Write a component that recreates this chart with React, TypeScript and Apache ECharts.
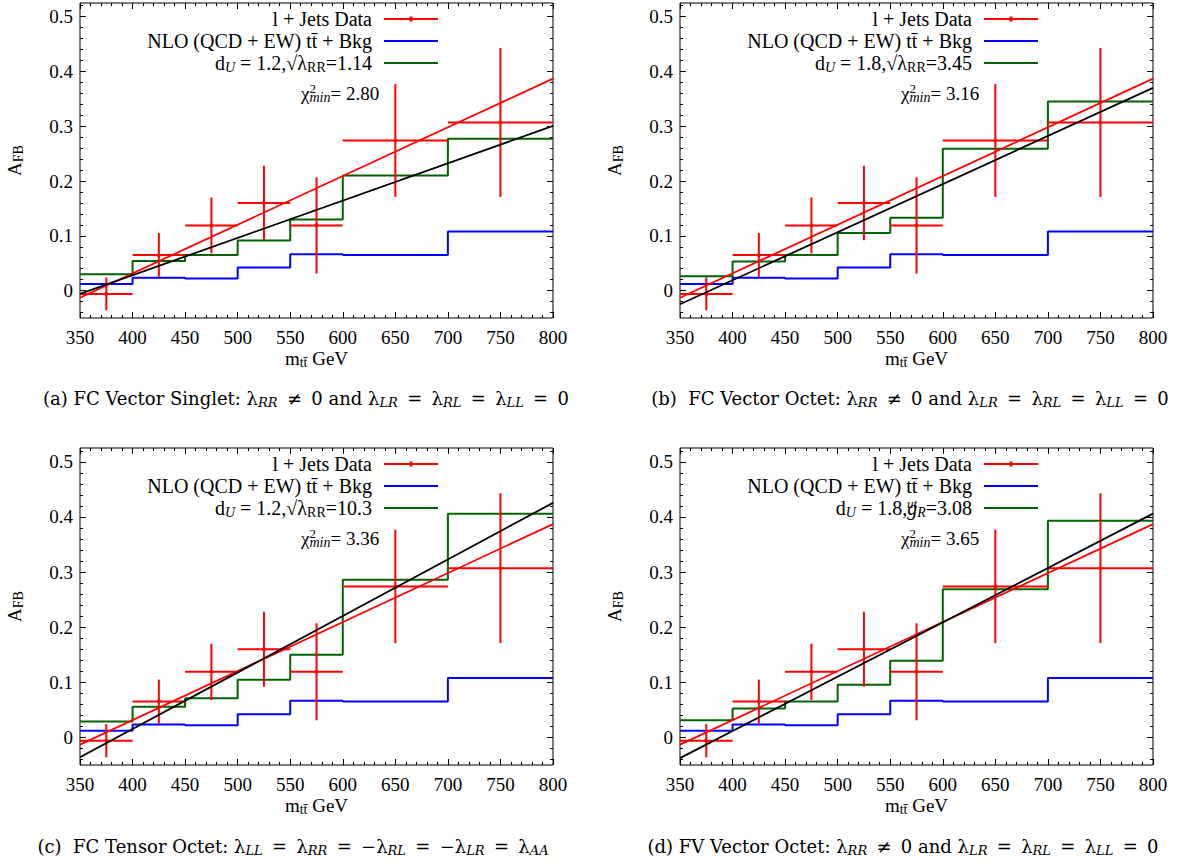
import React, { useEffect, useRef } from "react";
import * as echarts from "echarts";

// ---------------- data ----------------
const binEdges = [350, 400, 450, 500, 550, 600, 700, 800];
const dataCenters = [375, 425, 475, 525, 575, 650, 750];
const dataValues = [-0.006, 0.065, 0.119, 0.16, 0.119, 0.274, 0.307];
const dataErrors = [0.03, 0.04, 0.051, 0.068, 0.088, 0.103, 0.136];
const nloValues = [0.012, 0.0235, 0.022, 0.042, 0.0665, 0.065, 0.108];

const greenA = [0.03, 0.054, 0.065, 0.0915, 0.13, 0.21, 0.277];
const greenB = [0.026, 0.053, 0.065, 0.105, 0.133, 0.259, 0.345];
const greenC = [0.029, 0.0557, 0.071, 0.1047, 0.15, 0.286, 0.4056];
const greenD = [0.031, 0.0527, 0.065, 0.0956, 0.139, 0.269, 0.393];

const fitX = [350, 800];
const redFit = [-0.013, 0.387];
const blackFitA = [-0.006, 0.3006];
const blackFitB = [-0.025, 0.37];
const blackFitC = [-0.036, 0.4255];
const blackFitD = [-0.0375, 0.406];

const chiValues = ["2.80", "3.16", "3.36", "3.65"];

const xMin = 350;
const xMax = 800;
const xStep = 50;
const yMin = -0.05;
const yMax = 0.525;
const yTickValues = [0, 0.1, 0.2, 0.3, 0.4, 0.5];
const yMinorValues = [
  -0.04, -0.02, 0.02, 0.04, 0.06, 0.08, 0.12, 0.14, 0.16, 0.18, 0.22, 0.24,
  0.26, 0.28, 0.32, 0.34, 0.36, 0.38, 0.42, 0.44, 0.46, 0.48, 0.52,
];

const DATA_NAME = "l + Jets Data";
const NLO_NAME = "NLO (QCD + EW) tt\u0304 + Bkg";
const greenNames = [
  "dU = 1.2, √λRR = 1.14",
  "dU = 1.8, √λRR = 3.45",
  "dU = 1.2, √λRR = 10.3",
  "dU = 1.8, gR^ut = 3.08",
];
const greenLabels = [
  "d{subI|U} = 1.2,√λ{sub|RR}=1.14",
  "d{subI|U} = 1.8,√λ{sub|RR}=3.45",
  "d{subI|U} = 1.2,√λ{sub|RR}=10.3",
  "d{subI|U} = 1.8,{mI|g}{supI0|ut}{subI|R}=3.08",
];
const T = "\u2009";
const captions = [
  `(a) FC Vector Singlet: λ{capSub|RR} ${T}≠${T} 0 and λ{capSub|LR} ${T}=${T} λ{capSub|RL} ${T}=${T} λ{capSub|LL} ${T}=${T} 0`,
  `(b)  FC Vector Octet: λ{capSub|RR} ${T}≠${T} 0 and λ{capSub|LR} ${T}=${T} λ{capSub|RL} ${T}=${T} λ{capSub|LL} ${T}=${T} 0`,
  `(c)  FC Tensor Octet: λ{capSub|LL} ${T}=${T} λ{capSub|RR} ${T}=${T} −λ{capSub|RL} ${T}=${T} −λ{capSub|LR} ${T}=${T} λ{capSub|AA}`,
  `(d) FV Vector Octet: λ{capSub|RR} ${T}≠${T} 0 and λ{capSub|LR} ${T}=${T} λ{capSub|RL} ${T}=${T} λ{capSub|LL} ${T}=${T} 0`,
];
const greenSeries = [greenA, greenB, greenC, greenD];
const blackFits = [blackFitA, blackFitB, blackFitC, blackFitD];

// ---------------- layout / style ----------------
const W = 1181;
const H = 867;
const FONT = "Liberation Serif";
const CAP_FONT = "DejaVu Serif";
const RED = "#ff0000";
const BLUE = "#0000ff";
const GREEN = "#006400";
const BLACK = "#000000";

const layout = [
  { left: 80, top: 3, height: 315, capX: 306, capY: 398 },
  { left: 680, top: 3, height: 315, capX: 910, capY: 398 },
  { left: 80, top: 448, height: 317, capX: 293, capY: 846 },
  { left: 680, top: 448, height: 317, capX: 903, capY: 846 },
];
const PW = 473;

const rich: any = {
  mI: { fontFamily: FONT, fontSize: 20, fontStyle: "italic", color: BLACK },
  sub: { fontFamily: FONT, fontSize: 14, lineHeight: 12, verticalAlign: "bottom", color: BLACK },
  subI: { fontFamily: FONT, fontSize: 14, fontStyle: "italic", lineHeight: 12, verticalAlign: "bottom", color: BLACK },
  sup0: { fontFamily: FONT, fontSize: 13, lineHeight: 8, verticalAlign: "top", color: BLACK, width: 0 },
  supI0: { fontFamily: FONT, fontSize: 13, fontStyle: "italic", lineHeight: 7, verticalAlign: "top", color: BLACK, width: 0 },
  capSub: { fontFamily: CAP_FONT, fontSize: 13, fontStyle: "italic", lineHeight: 12, verticalAlign: "bottom", color: BLACK },
};

const DATA_ICON = "path://M0,2H54V4H0Z M25.5,0.5H28.5V5.5H25.5Z";

function stepData(vals: number[]) {
  return binEdges.map((e, k) => [e, vals[Math.min(k, vals.length - 1)]]);
}

function buildOption() {
  const grid: any[] = [];
  const xAxis: any[] = [];
  const yAxis: any[] = [];
  const series: any[] = [];
  const legend: any[] = [];
  const graphic: any[] = [];
  const legendLabel: Record<string, string> = {
    [DATA_NAME]: DATA_NAME,
    [NLO_NAME]: NLO_NAME,
  };
  greenNames.forEach((n, i) => (legendLabel[n] = greenLabels[i]));
  const noDot = { color: "rgba(0,0,0,0)", borderWidth: 0, opacity: 0 };

  layout.forEach((p, i) => {
    grid.push({
      left: p.left,
      top: p.top,
      width: PW,
      height: p.height,
      show: true,
      borderColor: BLACK,
      borderWidth: 1,
      backgroundColor: "transparent",
      containLabel: false,
    });
    const xCommon = {
      type: "value",
      gridIndex: i,
      min: xMin,
      max: xMax,
      interval: xStep,
      axisLine: { show: false, onZero: false },
      splitLine: { show: false },
      axisTick: { show: true, inside: true, length: 6, lineStyle: { color: BLACK, width: 1 } },
      minorTick: { show: true, splitNumber: 5, length: 3, lineStyle: { color: BLACK, width: 1 } },
    };
    xAxis.push({
      ...xCommon,
      position: "bottom",
      axisLabel: { show: true, fontFamily: FONT, fontSize: 19, color: BLACK, margin: 10 },
      name: "m{sub|tt\u0304} GeV",
      nameLocation: "middle",
      nameGap: 24,
      nameTextStyle: { fontFamily: FONT, fontSize: 19, lineHeight: 22, color: BLACK, rich },
    });
    xAxis.push({ ...xCommon, position: "top", axisLabel: { show: false } });

    const yCommon = {
      type: "value",
      gridIndex: i,
      min: yMin,
      max: yMax,
      axisLine: { show: false, onZero: false },
      splitLine: { show: false },
    };
    yAxis.push({
      ...yCommon,
      position: "left",
      axisTick: { show: true, inside: true, length: 6, customValues: yTickValues, lineStyle: { color: BLACK, width: 1 } },
      axisLabel: {
        show: true,
        customValues: yTickValues,
        fontFamily: FONT,
        fontSize: 19,
        color: BLACK,
        margin: 7,
        formatter: (v: number) => String(v),
      },
      name: "A{sub|FB}",
      nameLocation: "middle",
      nameRotate: 90,
      nameGap: 55,
      nameTextStyle: { fontFamily: FONT, fontSize: 19, lineHeight: 22, color: BLACK, rich },
    });
    yAxis.push({
      ...yCommon,
      position: "left",
      axisTick: { show: true, inside: true, length: 3, customValues: yMinorValues, lineStyle: { color: BLACK, width: 1 } },
      axisLabel: { show: false },
    });
    yAxis.push({
      ...yCommon,
      position: "right",
      axisTick: { show: true, inside: true, length: 6, customValues: yTickValues, lineStyle: { color: BLACK, width: 1 } },
      axisLabel: { show: false },
    });
    yAxis.push({
      ...yCommon,
      position: "right",
      axisTick: { show: true, inside: true, length: 3, customValues: yMinorValues, lineStyle: { color: BLACK, width: 1 } },
      axisLabel: { show: false },
    });

    const xi = 2 * i;
    const yi = 4 * i;
    series.push({
      type: "line",
      name: NLO_NAME,
      xAxisIndex: xi,
      yAxisIndex: yi,
      step: "end",
      symbol: "none",
      data: stepData(nloValues),
      lineStyle: { color: BLUE, width: 2 },
      itemStyle: { color: BLUE },
      z: 2,
    });
    series.push({
      type: "line",
      name: greenNames[i],
      xAxisIndex: xi,
      yAxisIndex: yi,
      step: "end",
      symbol: "none",
      data: stepData(greenSeries[i]),
      lineStyle: { color: GREEN, width: 2 },
      itemStyle: { color: GREEN },
      z: 3,
    });
    series.push({
      type: "custom",
      name: DATA_NAME,
      xAxisIndex: xi,
      yAxisIndex: yi,
      itemStyle: { color: RED },
      encode: { x: [0, 2, 3], y: 1 },
      data: dataCenters.map((c, k) => [c, dataValues[k], binEdges[k], binEdges[k + 1], dataErrors[k]]),
      renderItem: (_params: any, api: any) => {
        const cx = api.value(0);
        const cy = api.value(1);
        const e = api.value(4);
        const c = api.coord([cx, cy]);
        const l = api.coord([api.value(2), cy]);
        const r = api.coord([api.value(3), cy]);
        const t = api.coord([cx, cy + e]);
        const b = api.coord([cx, cy - e]);
        const st = { stroke: RED, lineWidth: 2 };
        return {
          type: "group",
          children: [
            { type: "line", shape: { x1: l[0], y1: l[1], x2: r[0], y2: r[1] }, style: st },
            { type: "line", shape: { x1: t[0], y1: t[1], x2: b[0], y2: b[1] }, style: st },
            { type: "circle", shape: { cx: c[0], cy: c[1], r: 2 }, style: { fill: RED } },
          ],
        };
      },
      z: 4,
    });
    series.push({
      type: "line",
      name: "fit-data",
      xAxisIndex: xi,
      yAxisIndex: yi,
      symbol: "none",
      data: fitX.map((x, k) => [x, redFit[k]]),
      lineStyle: { color: RED, width: 1.8 },
      itemStyle: { color: RED },
      z: 5,
    });
    series.push({
      type: "line",
      name: "fit-model",
      xAxisIndex: xi,
      yAxisIndex: yi,
      symbol: "none",
      data: fitX.map((x, k) => [x, blackFits[i][k]]),
      lineStyle: { color: BLACK, width: 1.8 },
      itemStyle: { color: BLACK },
      z: 6,
    });

    legend.push({
      show: true,
      orient: "vertical",
      align: "right",
      selectedMode: false,
      right: W - (p.left + 359),
      top: p.top + 5,
      padding: 0,
      itemGap: 0,
      itemWidth: 54,
      itemHeight: 6,
      data: [
        { name: DATA_NAME, icon: DATA_ICON, itemStyle: { color: RED } },
        { name: NLO_NAME, itemStyle: noDot },
        { name: greenNames[i], itemStyle: noDot },
      ],
      formatter: (n: string) => legendLabel[n] ?? n,
      textStyle: { fontFamily: FONT, fontSize: 20, lineHeight: 22, color: BLACK, padding: [0, 7, 0, 0], rich },
    });

    graphic.push({
      type: "text",
      x: p.left + 221,
      y: p.top + 90,
      style: {
        text: "χ{sup0|2}{subI|min}= " + chiValues[i],
        fontFamily: FONT,
        fontSize: 19,
        lineHeight: 22,
        fill: BLACK,
        align: "left",
        verticalAlign: "middle",
        textAlign: "left",
        textVerticalAlign: "middle",
        rich,
      },
    });
    graphic.push({
      type: "text",
      x: p.capX,
      y: p.capY,
      style: {
        text: captions[i],
        fontFamily: CAP_FONT,
        fontSize: 18,
        lineHeight: 22,
        fill: BLACK,
        align: "center",
        verticalAlign: "middle",
        textAlign: "center",
        textVerticalAlign: "middle",
        rich,
      },
    });
  });

  return {
    animation: false,
    backgroundColor: "#ffffff",
    textStyle: { fontFamily: FONT },
    grid,
    xAxis,
    yAxis,
    series,
    legend,
    graphic,
  };
}

export default function App() {
  const ref = useRef<HTMLDivElement>(null);
  useEffect(() => {
    if (!ref.current) return;
    const chart = echarts.init(ref.current, undefined, { renderer: "svg", width: W, height: H });
    chart.setOption(buildOption() as any);
    return () => chart.dispose();
  }, []);
  return (
    <div
      ref={ref}
      style={{ position: "fixed", left: 0, top: 0, width: W, height: H, background: "#fff" }}
    />
  );
}
